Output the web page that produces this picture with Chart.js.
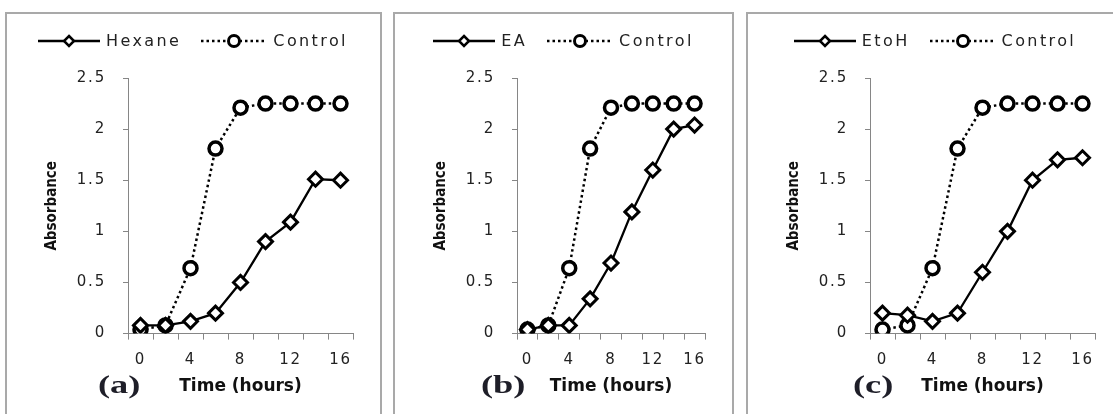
<!DOCTYPE html>
<html>
<head>
<meta charset="utf-8">
<script src="https://cdn.jsdelivr.net/npm/chart.js@4.4.1/dist/chart.umd.min.js"></script>
<style>
body { margin: 0; background: #fff; width: 1113px; height: 414px; overflow: hidden; position: relative; }
.panel { position: absolute; top: 12px; height: 420px; border: 2px solid #a9a9a9; border-bottom: none; box-sizing: border-box; }
.box { position: absolute; top: 15px; height: 399px; }
.legend { position: absolute; top: 16px; left: 0; right: 0; display: flex; justify-content: center; align-items: center;
  font: 16px "DejaVu Sans", sans-serif; letter-spacing: 2.4px; color: #222; }
.legend svg { margin-right: 6px; }
.legend .item { display: flex; align-items: center; margin: 0 10px; }
.tag { position: absolute; top: 370px; font: bold 26px "Liberation Serif", serif; color: #1e1e28;
  transform: scaleX(1.4); transform-origin: left top; }
</style>
</head>
<body>

<div class="panel" style="left:5px;width:377px"></div>
<div class="panel" style="left:393px;width:341px"></div>
<div class="panel" style="left:746px;width:400px"></div>

<div class="box" id="boxA" style="left:7px;width:372px"><canvas id="chartA"></canvas></div>
<div class="box" id="boxB" style="left:396px;width:335px"><canvas id="chartB"></canvas></div>
<div class="box" id="boxC" style="left:749px;width:372px"><canvas id="chartC"></canvas></div>

<div class="tag" style="left:98px">(a)</div>
<div class="tag" style="left:481px">(b)</div>
<div class="tag" style="left:853px">(c)</div>

<script>
// ---- data ----
const times = ["0", "2", "4", "6", "8", "10", "12", "14", "16"];
const control = [0.04, 0.08, 0.64, 1.81, 2.21, 2.25, 2.25, 2.25, 2.25];
const hexane = [0.08, 0.08, 0.12, 0.20, 0.50, 0.90, 1.09, 1.51, 1.50];
const ea = [0.04, 0.08, 0.08, 0.34, 0.69, 1.19, 1.60, 2.00, 2.04];
const etoh = [0.20, 0.18, 0.12, 0.20, 0.60, 1.00, 1.50, 1.70, 1.72];
const yTicks = [0, 0.5, 1, 1.5, 2, 2.5];

const axisGrey = "#868686";

// wider tick text, like the original (tick labels are drawn after the datasets)
const spacedTicks = {
    id: "spacedTicks",
    afterDatasetsDraw(chart) { chart.ctx.letterSpacing = "1.8px"; },
    afterDraw(chart) { chart.ctx.letterSpacing = "0px"; }
};

// legend symbols (line + marker), drawn in svg
function legendSymbol(kind) {
    if (kind === "solid") {
        return `<svg width="62" height="14"><line x1="0" y1="7" x2="62" y2="7" stroke="#000" stroke-width="2.5"/>
            <polygon points="31,2 36,7 31,12 26,7" fill="#fff" stroke="#000" stroke-width="2.5"/></svg>`;
    }
    return `<svg width="66" height="16"><line x1="0" y1="8" x2="66" y2="8" stroke="#000" stroke-width="2.5" stroke-dasharray="2.5,3"/>
        <circle cx="33" cy="8" r="5.5" fill="#fff" stroke="#000" stroke-width="3"/></svg>`;
}

function addLegend(boxId, name) {
    const div = document.createElement("div");
    div.className = "legend";
    div.innerHTML = `
        <span class="item">${legendSymbol("solid")}<span>${name}</span></span>
        <span class="item">${legendSymbol("dot")}<span>Control</span></span>
    `;
    document.getElementById(boxId).appendChild(div);
}

function makeChart(canvasId, name, values) {
    new Chart(document.getElementById(canvasId), {
        type: "line",
        data: {
            labels: times,
            datasets: [
                {
                    label: name,
                    data: values,
                    borderColor: "#000",
                    borderWidth: 2.3,
                    pointStyle: "rectRot",
                    pointRadius: 7,
                    pointBorderWidth: 3,
                    pointBackgroundColor: "#fff",
                    pointBorderColor: "#000",
                    tension: 0
                },
                {
                    label: "Control",
                    data: control,
                    borderColor: "#000",
                    borderWidth: 2.5,
                    borderDash: [2.5, 3],
                    pointStyle: "circle",
                    pointRadius: 6.5,
                    pointBorderWidth: 3.5,
                    pointBackgroundColor: "#fff",
                    pointBorderColor: "#000",
                    tension: 0
                }
            ]
        },
        options: {
            responsive: true,
            maintainAspectRatio: false,
            animation: false,
            layout: { padding: { left: 32, right: 26, top: 63, bottom: 17 } },
            plugins: {
                legend: { display: false },
                tooltip: { enabled: false }
            },
            scales: {
                x: {
                    type: "category",
                    offset: true,
                    grid: { drawOnChartArea: false, drawTicks: true, tickLength: 6, color: axisGrey, offset: true },
                    border: { color: axisGrey, width: 1 },
                    ticks: {
                        z: 1,
                        autoSkip: false,
                        maxRotation: 0,
                        padding: 12,
                        color: "#222",
                        font: { family: "DejaVu Sans", size: 15 },
                        callback: (v, i) => (i % 2 === 0 ? times[i] : "")
                    },
                    title: {
                        display: true,
                        text: "Time (hours)",
                        color: "#111",
                        font: { family: "DejaVu Sans", size: 17, weight: "bold" },
                        padding: { top: -5, bottom: 0 }
                    }
                },
                y: {
                    min: 0,
                    max: 2.5,
                    afterBuildTicks: scale => { scale.ticks = yTicks.map(v => ({ value: v })); },
                    afterFit: scale => { scale.width = 89; },
                    grid: { drawOnChartArea: false, drawTicks: true, tickLength: 5, color: axisGrey },
                    border: { color: axisGrey, width: 1 },
                    ticks: {
                        z: 1,
                        padding: 17,
                        color: "#222",
                        font: { family: "DejaVu Sans", size: 15 },
                        callback: v => String(v)
                    },
                    title: {
                        display: true,
                        text: "Absorbance",
                        color: "#111",
                        font: { family: "Liberation Sans Narrow, DejaVu Sans Condensed", size: 15, weight: "bold" },
                        padding: { top: 4, bottom: 4 }
                    }
                }
            }
        },
        plugins: [spacedTicks]
    });
}

makeChart("chartA", "Hexane", hexane);
makeChart("chartB", "EA", ea);
makeChart("chartC", "EtoH", etoh);

addLegend("boxA", "Hexane");
addLegend("boxB", "EA");
addLegend("boxC", "EtoH");
</script>
</body>
</html>
